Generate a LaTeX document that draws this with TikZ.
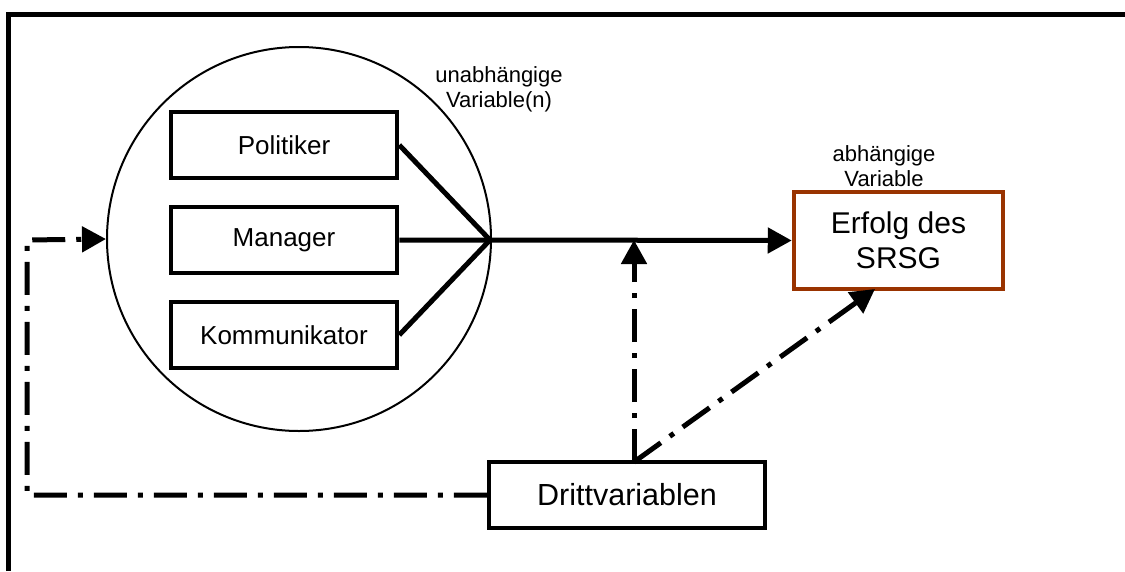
\documentclass[tikz,border=0pt]{standalone}
\usepackage{fontspec}
\setmainfont{Liberation Sans}
\usetikzlibrary{arrows.meta}
\definecolor{brownb}{RGB}{153,51,0}
\begin{document}
\begin{tikzpicture}[x=1pt,y=-1pt,
  box/.style={draw, line width=4.5pt, minimum width=226pt, minimum height=66pt, inner sep=0pt, font=\fontsize{26}{30}\selectfont},
  solidline/.style={line width=5pt},
  dashdot/.style={line width=5pt, dash pattern=on 33pt off 11pt on 5pt off 11pt},
  tip/.style={-{Triangle[length=24pt,width=25pt]}},
  lbl/.style={align=center, font=\fontsize{22}{25}\selectfont, inner sep=0pt}
]
\fill[white] (0,0) rectangle (1125,571);
\useasboundingbox (0,0) rectangle (1125,571);

% frame
\draw[line width=5pt] (8,571) -- (8,14.5) -- (1125,14.5);

% circle
\node[circle, draw, line width=2pt, minimum size=384pt, inner sep=0pt] (circ) at (299,239) {};

% boxes
\node[box] (pol) at (284,145) {Politiker};
\node[box] (man) at (284,240) {Manager};
\node[box] (kom) at (284,335) {Kommunikator};

\node[draw=brownb, line width=4.5pt, minimum width=209pt, minimum height=97pt, inner sep=0pt,
      align=center, font=\fontsize{30}{35}\selectfont] (erf) at (898.5,240.5) {Erfolg des\\SRSG};
\node[draw, line width=4.5pt, minimum width=276pt, minimum height=66pt, inner sep=0pt,
      font=\fontsize{30.5}{35}\selectfont] (dritt) at (627,495) {Drittvariablen};

% labels
\node[lbl] (uv) at (499,89) {unabhängige\\Variable(n)};
\node[lbl] (av) at (884,166) {abhängige\\Variable};

% connectors
\coordinate (j) at (490,240);
\coordinate (m) at (634,240);
\coordinate (d) at (634,462);
\coordinate (e) at (875,289);
\coordinate (c1) at (27,495);
\coordinate (c2) at (27,240);

\draw[solidline] (pol.east) -- (j);
\draw[solidline] (kom.east) -- (j);
\draw[solidline, tip] (man.east) -- (j) -- (erf.west);

\draw[dashdot, tip] (d) -- (m);
\draw[dashdot, tip] (d) -- (e);
\draw[dashdot, tip] (dritt.west) -- (c1) -- (c2) -- (circ.west);
\end{tikzpicture}
\end{document}
